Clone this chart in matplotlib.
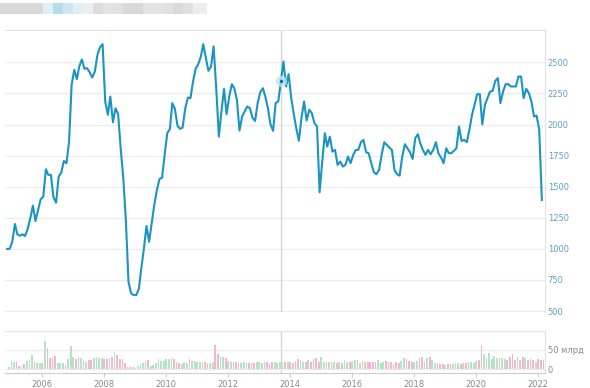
import numpy as np
import pandas as pd
import matplotlib
matplotlib.use("Agg")
import matplotlib.pyplot as plt

# monthly index values, Nov 2004 .. Feb 2022
price = [
    1000, 1000, 1058, 1200, 1117, 1106, 1117, 1104, 1160, 1246,
    1348, 1224, 1313, 1399, 1420, 1640, 1595, 1595, 1415, 1372,
    1581, 1613, 1707, 1689, 1863, 2319, 2440, 2365, 2467, 2523,
    2448, 2453, 2421, 2378, 2426, 2560, 2622, 2646, 2185, 2078,
    2225, 2018, 2131, 2083, 1809, 1568, 1219, 736, 642, 629,
    629, 682,
    843, 1004, 1184, 1058, 1206, 1353, 1474, 1562, 1573, 1756,
    1930, 1965, 2172, 2126, 1992, 1965, 1976, 2131, 2217, 2212,
    2346, 2448, 2485, 2547, 2646, 2534, 2432, 2467, 2628, 2292,
    1903, 2104, 2287, 2083, 2225, 2324, 2292, 2198, 1951, 2064,
    2104, 2145, 2131, 2056, 2029, 2172, 2260, 2292, 2225, 2131,
    2002, 1949,
    2172, 2185, 2346, 2507, 2306, 2405, 2212, 2078, 1971, 1869,
    2051, 2185, 2032, 2118, 2091, 2011, 1984, 1455, 1702, 1930,
    1823, 1903, 1782, 1796, 1675, 1702, 1662, 1675, 1742, 1689,
    1756, 1796, 1796, 1858, 1876, 1777, 1769, 1689, 1616, 1600,
    1635, 1756, 1858, 1836, 1815, 1796, 1635, 1600, 1589, 1742,
    1842, 1809,
    1777, 1723, 1890, 1922, 1850, 1796, 1756, 1796, 1761, 1796,
    1858, 1769, 1734, 1689, 1809, 1769, 1769, 1788, 1809, 1984,
    1868, 1876, 1858, 1957, 2078, 2158, 2244, 2244, 2002, 2158,
    2212, 2265, 2271, 2351, 2373, 2172, 2265, 2324, 2324, 2306,
    2306, 2306, 2386, 2386, 2212, 2287, 2252, 2185, 2064, 2072,
    1957, 1393,
]

# monthly turnover, bln
volume = [
    5, 22, 20, 22, 9, 9, 13, 22, 24, 37,
    18, 15, 15, 16, 72, 54, 28, 28, 34, 16,
    16, 16, 11, 27, 59, 33, 27, 35, 28, 22,
    18, 24, 24, 28, 32, 30, 28, 27, 27, 30,
    32, 44, 37, 27, 27, 16, 7, 5, 5, 4,
    9, 14, 16, 22, 24, 9, 11, 16, 27, 22,
    22, 27, 27, 30, 27, 20, 16, 13, 20, 16,
    27, 22, 22, 20, 20, 18, 18, 15, 16, 18,
    63, 39, 35, 33, 28, 22, 18, 20, 18, 15,
    15, 18, 16, 16, 16, 16, 18, 18, 16, 18,
    18, 16, 18, 18, 15, 20,
    20, 20, 18, 18, 16, 22, 27, 24, 18, 18,
    24, 20, 27, 28, 18, 33, 18, 20, 18,
    18, 18, 16, 18, 16, 24, 20, 18, 22,
    23, 24, 16, 22, 18, 18, 20, 18, 20, 24,
    16, 18, 22, 18, 20, 13, 20, 16, 22, 30,
    27, 22, 18, 18, 22, 30, 32, 20, 28, 33,
    24, 15, 15, 13, 13, 11, 13, 13, 13, 15,
    15, 13, 16, 16, 20, 18, 16, 22, 24, 63,
    39, 30, 41, 27, 35, 28, 28, 28, 27, 24,
    33, 39, 24, 33, 24, 33, 28, 24, 27, 24,
    20, 27, 24, 24,
]

years = list(range(2006, 2023, 2))
price_ticks = list(range(500, 2501, 250))
cursor_idx = 106

# blurred header blocks (width px, colour)
header_blocks = [(43, "#d9d9d9"), (10, "#e0eef5"), (10, "#b5dcec"), (10, "#cce6f2"),
                 (10, "#e0eef6"), (10, "#ebeff2"), (10, "#dcdcdc"), (10, "#e4e4e4"),
                 (10, "#e0e0e0"), (20, "#d8d8d8"), (20, "#e4e4e4"), (10, "#e0e0e0"),
                 (10, "#d9d9d9"), (10, "#e0e0e0"), (14, "#ededf0")]

LINE = "#1a94c2"
GRID = "#ececec"
W, H = 590, 388

dates = pd.date_range("2004-11-01", periods=len(price), freq="MS") + pd.Timedelta(days=14)
bar_dates = dates + pd.Timedelta(days=20)
p = np.array(price)
up = np.append(p[1:] > p[:-1], False)
bar_colors = np.where(up, "#b4e4c3", "#f4b5cd")

xmin, xmax = pd.Timestamp("2004-10-21"), pd.Timestamp("2022-03-24")


def px_axes(left, top, right, bottom):
    return fig.add_axes([left / W, 1 - bottom / H, (right - left) / W, (bottom - top) / H])


fig = plt.figure(figsize=(W / 100, H / 100), dpi=100)

# header
x0 = 0
for w, c in header_blocks:
    fig.patches.append(plt.Rectangle((x0 / W, 1 - 14 / H), w / W, 11 / H,
                                     transform=fig.transFigure, color=c, lw=0))
    x0 += w

# price panel
ax = px_axes(5, 30, 545, 311.7)
ax.plot(dates, price, color=LINE, lw=1.5, solid_joinstyle="round")
ax.set_xlim(xmin, xmax)
ax.set_ylim(495, 2760)
ax.set_yticks(price_ticks)
ax.yaxis.tick_right()
ax.tick_params(axis="y", length=0, pad=2, labelsize=6, labelcolor="#5aa0c8")
ax.tick_params(axis="x", bottom=False, labelbottom=False)
ax.grid(axis="y", color=GRID, lw=0.9)
ax.set_axisbelow(True)
for s in ["left", "bottom"]:
    ax.spines[s].set_visible(False)
ax.spines["top"].set_color("#e4e4e4")
ax.spines["right"].set_color("#e0e0e8")
ax.axvline(dates[cursor_idx], color="#d4d4d4", lw=0.9, zorder=1)
ax.plot(dates[cursor_idx], price[cursor_idx], "o", ms=8, color="#bfe3f0", alpha=0.8, mec="none")
ax.plot(dates[cursor_idx], price[cursor_idx], "o", ms=2.5, color="#1a6f90", mec="none")

# volume panel
axv = px_axes(5, 331, 545, 372.7)
axv.bar(bar_dates, volume, width=20, color=bar_colors, lw=0)
axv.set_xlim(xmin, xmax)
axv.set_ylim(-8.8, 99)
axv.set_yticks([0, 50])
axv.set_yticklabels(["0", "50 млрд"])
axv.yaxis.tick_right()
axv.tick_params(axis="y", length=0, pad=2, labelsize=6, labelcolor="#8a8a8a")
axv.grid(axis="y", color=GRID, lw=0.9)
axv.set_axisbelow(True)
axv.set_xticks([pd.Timestamp(f"{y}-01-01") for y in years])
axv.set_xticklabels([str(y) for y in years])
axv.tick_params(axis="x", length=3, width=0.8, color="#cccccc", pad=2,
                labelsize=6, labelcolor="#8a8a8a")
axv.spines["left"].set_visible(False)
axv.spines["top"].set_color("#e4e4e4")
axv.spines["right"].set_color("#e0e0e8")
axv.spines["bottom"].set_color("#cccccc")
axv.axvline(dates[cursor_idx], color="#d4d4d4", lw=0.9, zorder=0)

fig.savefig("out.png", dpi=100)
